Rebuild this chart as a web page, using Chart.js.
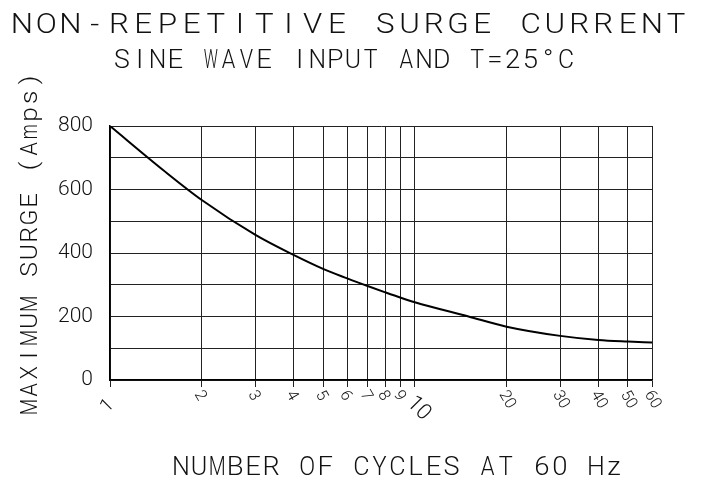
<!DOCTYPE html>
<html>
<head>
<meta charset="utf-8">
<script src="https://cdn.jsdelivr.net/npm/chart.js@4"></script>
<style>
  html, body { margin: 0; padding: 0; background: #fff; }
  #wrap { width: 701px; height: 480px; }
</style>
</head>
<body>
<div id="wrap"><canvas id="surgeChart" width="701" height="480"></canvas></div>
<script>
// Surge curve
const cycles = [1, 1.5, 2, 3, 4, 5, 6, 7, 8, 9, 10, 15, 20, 30, 40, 50, 60];
const surge = [800, 660, 567, 457, 394, 350, 320, 296, 276, 259, 245, 200, 168, 139, 126, 121, 118];

const xTicks = [1, 2, 3, 4, 5, 6, 7, 8, 9, 10, 20, 30, 40, 50, 60];
const yLabels = [0, 200, 400, 600, 800];

const titleText = 'NON-REPETITIVE SURGE CURRENT';
const subtitleText = 'SINE WAVE INPUT AND T=25°C';
const xTitle = 'NUMBER OF CYCLES AT 60 Hz';
const yTitle = 'MAXIMUM SURGE (Amps)';

const FONT = 'Roboto, "DejaVu Sans", sans-serif';
const INK = '#111';

// plotter style text: every character sits on an even pitch, first and last centre given
function gridText(ctx, text, c0, c1, y, size, stretch) {
    var p = (c1 - c0) / (text.length - 1);
    var maxW = p * 0.78;
    ctx.font = '300 ' + size + 'px ' + FONT;
    ctx.textAlign = 'center';
    ctx.textBaseline = 'alphabetic';
    for (var i = 0; i < text.length; i++) {
        var ch = text[i];
        if (ch === ' ') continue;
        var m = ctx.measureText(ch);
        var gw = (m.actualBoundingBoxLeft + m.actualBoundingBoxRight) * stretch;
        var sx = gw > maxW ? stretch * maxW / gw : stretch;
        ctx.save();
        ctx.translate(c0 + i * p, y);
        ctx.scale(sx, 1);
        ctx.fillText(ch, 0, 0);
        ctx.restore();
    }
}

const textPlugin = {
    id: 'cadText',
    afterDraw(chart) {
        var ctx = chart.ctx;
        var xs = chart.scales.x;
        ctx.save();
        ctx.fillStyle = INK;
        gridText(ctx, titleText, 22, 676, 33, 28, 1.12);
        gridText(ctx, subtitleText, 122, 566, 68, 25, 1.1);
        gridText(ctx, xTitle, 181, 614, 475, 25, 1.1);

        ctx.save();
        ctx.translate(37, 0);
        ctx.rotate(-Math.PI / 2);
        // rotated frame: x runs upward, so use negative page y
        gridText(ctx, yTitle, -407, -80, 0, 24, 1.1);
        ctx.restore();

        // x tick labels, turned clockwise
        var base = chart.chartArea.bottom;
        for (var i = 0; i < xTicks.length; i++) {
            var v = xTicks[i];
            var px = xs.getPixelForValue(v);
            ctx.save();
            if (v === 10) {
                ctx.translate(px - 5, base + 20);
                ctx.rotate(Math.PI / 4);
                ctx.font = '300 22px ' + FONT;
            } else if (v === 1) {
                ctx.translate(px - 6, base + 30);
                ctx.rotate(-Math.PI / 4);
                ctx.font = '300 19px ' + FONT;
            } else {
                ctx.translate(px - 4, base + 12);
                ctx.rotate(Math.PI / 3);
                ctx.font = '300 16px ' + FONT;
            }
            ctx.textAlign = 'left';
            ctx.textBaseline = 'middle';
            ctx.fillText(String(v), 0, 0);
            ctx.restore();
        }
        ctx.restore();
    }
};

const ctx = document.getElementById('surgeChart').getContext('2d');
const surgeChart = new Chart(ctx, {
    type: 'line',
    data: {
        datasets: [{
            data: cycles.map((c, i) => ({ x: c, y: surge[i] })),
            borderColor: '#000',
            borderWidth: 2,
            pointRadius: 0,
            fill: false,
            cubicInterpolationMode: 'monotone'
        }]
    },
    options: {
        responsive: false,
        animation: false,
        events: [],
        layout: { padding: { left: 0, right: 49, top: 126, bottom: 0 } },
        plugins: {
            legend: { display: false },
            title: { display: false },
            tooltip: { enabled: false }
        },
        scales: {
            x: {
                type: 'logarithmic',
                min: 1,
                max: 60,
                afterBuildTicks: (scale) => {
                    scale.ticks = xTicks.map(v => ({ value: v }));
                },
                afterFit: (scale) => { scale.height = 100; },
                ticks: { display: false },
                grid: {
                    color: '#222',
                    lineWidth: 1,
                    drawTicks: true,
                    tickLength: 7
                },
                border: { color: '#000', width: 1.5 }
            },
            y: {
                min: 0,
                max: 800,
                afterFit: (scale) => { scale.width = 110; },
                ticks: {
                    stepSize: 100,
                    autoSkip: false,
                    padding: 17,
                    color: INK,
                    font: { family: FONT, size: 21, weight: 300 },
                    callback: (v) => yLabels.includes(v) ? String(v) : ''
                },
                grid: {
                    color: '#222',
                    lineWidth: 1,
                    drawTicks: false
                },
                border: { color: '#000', width: 1.5 }
            }
        }
    },
    plugins: [textPlugin]
});
</script>
</body>
</html>
